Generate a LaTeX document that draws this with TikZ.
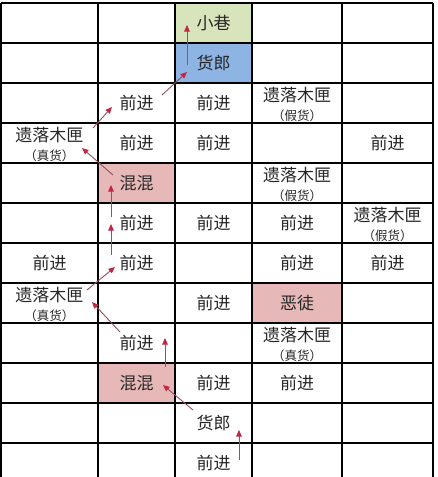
\documentclass[tikz,border=0pt]{standalone}
\usepackage{fontspec}
\setmainfont{Noto Sans CJK SC}
\usetikzlibrary{arrows.meta}
\definecolor{lanegreen}{RGB}{216,228,188}
\definecolor{peddlerblue}{RGB}{141,180,226}
\definecolor{foepink}{RGB}{230,184,183}
\definecolor{pathline}{RGB}{150,80,95}
\definecolor{pathtip}{RGB}{192,40,70}
\newcommand{\goodsnote}[1]{{\fontsize{12.5}{14}\selectfont （#1）}}

\begin{document}
\begin{tikzpicture}[x=1pt,y=-1pt]
    \tikzset{
        cell/.style = {inner sep=1pt, font=\fontsize{17}{19}\selectfont, text=black!85},
        boxnode/.style = {cell, align=center},
        arrow/.style = {line width=0.9pt, draw=pathline, -{Triangle[length=6.5pt,width=5.5pt,color=pathtip]}}
    }
    \useasboundingbox (0,0) rectangle (437,477);

    % coloured cells
    \fill[lanegreen] (175,3) rectangle (252,43);
    \fill[peddlerblue] (175,43) rectangle (252,83);
    \fill[foepink] (98,163) rectangle (175,203);
    \fill[foepink] (252,283) rectangle (342,323);
    \fill[foepink] (98,363) rectangle (175,403);

    % grid
    \foreach \y in {3,43,...,443} \draw[line width=1.2pt] (1,\y) -- (433,\y);
    \foreach \x in {1,98,175,252,342,433} \draw[line width=1.2pt] (\x,3) -- (\x,477);

    \node (lane0) [cell] at (213.5,23) {小巷};
    \node (peddler1) [cell] at (213.5,63) {货郎};

    \node (fwd2a) [cell] at (136.5,103) {前进};
    \node (fwd2b) [cell] at (213.5,103) {前进};
    \node (fake2) [boxnode] at (297,104) {遗落木匣\\\goodsnote{假货}};

    \node (real3) [boxnode] at (49.5,144) {遗落木匣\\\goodsnote{真货}};
    \node (fwd3a) [cell] at (136.5,143) {前进};
    \node (fwd3b) [cell] at (213.5,143) {前进};
    \node (fwd3c) [cell] at (387.5,143) {前进};

    \node (thug4) [cell] at (136.5,183) {混混};
    \node (fake4) [boxnode] at (297,184) {遗落木匣\\\goodsnote{假货}};

    \node (fwd5a) [cell] at (136.5,223) {前进};
    \node (fwd5b) [cell] at (213.5,223) {前进};
    \node (fwd5c) [cell] at (297,223) {前进};
    \node (fake5) [boxnode] at (387.5,224) {遗落木匣\\\goodsnote{假货}};

    \node (fwd6a) [cell] at (49.5,263) {前进};
    \node (fwd6b) [cell] at (136.5,263) {前进};
    \node (fwd6c) [cell] at (297,263) {前进};
    \node (fwd6d) [cell] at (387.5,263) {前进};

    \node (real7) [boxnode] at (49.5,304) {遗落木匣\\\goodsnote{真货}};
    \node (fwd7) [cell] at (213.5,303) {前进};
    \node (bandit7) [cell] at (297,303) {恶徒};

    \node (fwd8) [cell] at (136.5,343) {前进};
    \node (real8) [boxnode] at (297,344) {遗落木匣\\\goodsnote{真货}};

    \node (thug9) [cell] at (136.5,383) {混混};
    \node (fwd9a) [cell] at (213.5,383) {前进};
    \node (fwd9b) [cell] at (297,383) {前进};

    \node (peddler10) [cell] at (213.5,423) {货郎};
    \node (fwd11) [cell] at (213.5,463) {前进};

    % route
    \draw [arrow] ([shift={(25.5,-3)}]fwd11.center) -- ([shift={(25.5,7)}]peddler10.center);
    \draw [arrow] ([shift={(-20.5,-13)}]peddler10.center) -- ([shift={(26.5,2)}]thug9.center);
    \draw [arrow] ([shift={(28.5,-16)}]thug9.center) -- ([shift={(28.5,-5)}]fwd8.center);
    \draw [arrow] ([shift={(-16.5,-11)}]fwd8.center) -- ([shift={(42.5,-2)}]real7.center);
    \draw [arrow] ([shift={(37.5,-14)}]real7.center) -- ([shift={(-21.5,4)}]fwd6b.center);
    \draw [arrow] ([shift={(-25.5,-8)}]fwd6b.center) -- ([shift={(-25.5,1)}]fwd5a.center);
    \draw [arrow] ([shift={(-25.5,-6)}]fwd5a.center) -- ([shift={(-25.5,2)}]thug4.center);
    \draw [arrow] ([shift={(-23.5,-8)}]thug4.center) -- ([shift={(32.5,4)}]real3.center);
    \draw [arrow] ([shift={(43.5,-16)}]real3.center) -- ([shift={(-24.5,4)}]fwd2a.center);
    \draw [arrow] ([shift={(25.5,-8)}]fwd2a.center) -- ([shift={(-26.5,9)}]peddler1.center);
    \draw [arrow] ([shift={(-26.5,2)}]peddler1.center) -- ([shift={(-26.5,2)}]lane0.center);

\end{tikzpicture}
\end{document}
